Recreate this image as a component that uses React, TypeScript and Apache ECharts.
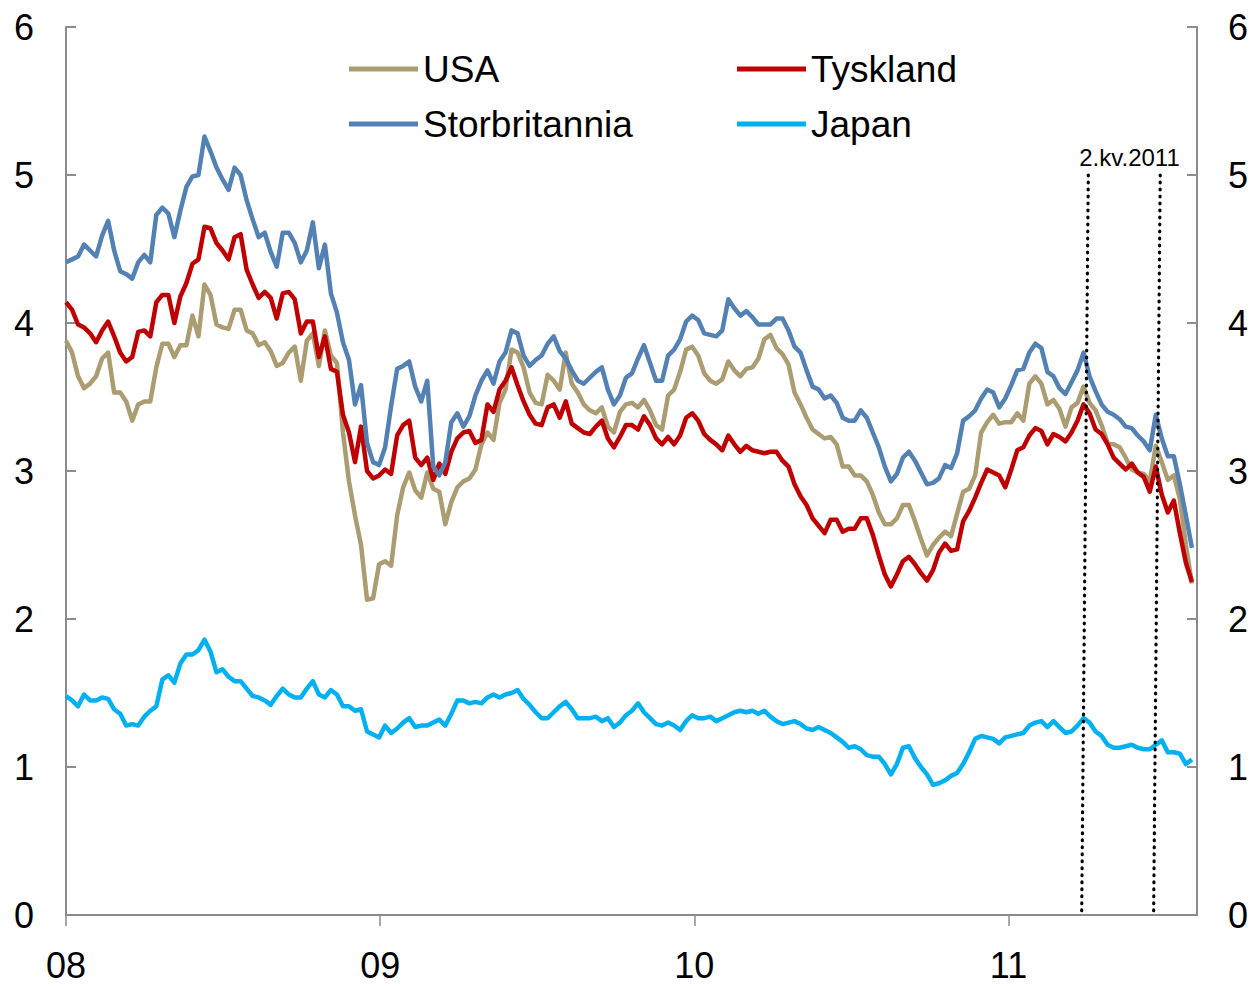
import React, { useEffect, useRef } from "react";
import * as echarts from "echarts";

// Weekly 10-year government bond yields (per cent), Jan 2008 - Aug 2011
const USA = [
  3.88, 3.80, 3.64, 3.56, 3.59, 3.64, 3.76, 3.80, 3.53, 3.53,
  3.47, 3.34, 3.45, 3.47, 3.47, 3.70, 3.86, 3.86, 3.77, 3.85,
  3.85, 4.05, 3.91, 4.26, 4.19, 3.99, 3.97, 3.96, 4.09, 4.09,
  3.95, 3.93, 3.85, 3.87, 3.81, 3.71, 3.73, 3.80, 3.84, 3.61,
  3.88, 3.93, 3.71, 3.95, 3.78, 3.73, 3.26, 2.93, 2.70, 2.50,
  2.13, 2.14, 2.37, 2.39, 2.36, 2.70, 2.89, 2.99, 2.87, 2.82,
  2.99, 2.88, 2.86, 2.64, 2.79, 2.89, 2.93, 2.95, 3.01, 3.18,
  3.26, 3.21, 3.46, 3.55, 3.82, 3.80, 3.70, 3.53, 3.46, 3.45,
  3.65, 3.61, 3.55, 3.80, 3.59, 3.53, 3.45, 3.41, 3.39, 3.43,
  3.30, 3.26, 3.40, 3.45, 3.46, 3.43, 3.48, 3.41, 3.31, 3.28,
  3.51, 3.55, 3.67, 3.82, 3.84, 3.78, 3.66, 3.61, 3.59, 3.62,
  3.74, 3.68, 3.64, 3.69, 3.70, 3.76, 3.89, 3.92, 3.83, 3.79,
  3.72, 3.53, 3.45, 3.36, 3.28, 3.25, 3.22, 3.23, 3.18, 3.03,
  3.03, 2.97, 2.97, 2.93, 2.84, 2.72, 2.64, 2.64, 2.68, 2.77,
  2.77, 2.66, 2.54, 2.43, 2.50, 2.55, 2.59, 2.56, 2.71, 2.86,
  2.88, 2.97, 3.26, 3.33, 3.38, 3.32, 3.33, 3.33, 3.39, 3.34,
  3.59, 3.64, 3.59, 3.45, 3.48, 3.42, 3.30, 3.43, 3.46, 3.57,
  3.46, 3.41, 3.31, 3.19, 3.18, 3.16, 3.09, 3.01, 2.99, 2.98,
  2.93, 3.17, 3.06, 2.94, 2.97, 2.81, 2.50, 2.24,
];

const TYSKLAND = [
  4.14, 4.09, 3.99, 3.97, 3.93, 3.87, 3.95, 4.01, 3.91, 3.80,
  3.74, 3.77, 3.94, 3.95, 3.91, 4.14, 4.19, 4.19, 4.00, 4.18,
  4.27, 4.40, 4.43, 4.65, 4.64, 4.54, 4.49, 4.43, 4.58, 4.60,
  4.36, 4.26, 4.17, 4.21, 4.17, 4.03, 4.20, 4.21, 4.16, 3.93,
  4.01, 4.01, 3.77, 3.91, 3.69, 3.67, 3.38, 3.26, 3.06, 3.30,
  3.00, 2.95, 2.97, 3.01, 2.98, 3.24, 3.31, 3.34, 3.09, 3.04,
  3.09, 2.94, 3.05, 2.98, 3.13, 3.22, 3.26, 3.27, 3.19, 3.21,
  3.45, 3.40, 3.55, 3.61, 3.70, 3.58, 3.47, 3.38, 3.32, 3.31,
  3.43, 3.45, 3.36, 3.47, 3.32, 3.29, 3.26, 3.25, 3.30, 3.34,
  3.22, 3.16, 3.23, 3.31, 3.31, 3.28, 3.37, 3.31, 3.22, 3.18,
  3.23, 3.18, 3.24, 3.36, 3.39, 3.34, 3.25, 3.21, 3.18, 3.14,
  3.24, 3.18, 3.13, 3.17, 3.14, 3.13, 3.12, 3.13, 3.13, 3.07,
  3.03, 2.91, 2.83, 2.77, 2.68, 2.63, 2.58, 2.67, 2.67, 2.59,
  2.61, 2.61, 2.68, 2.68, 2.57, 2.43, 2.30, 2.22, 2.30, 2.39,
  2.42, 2.37, 2.31, 2.26, 2.33, 2.45, 2.51, 2.46, 2.47, 2.66,
  2.73, 2.82, 2.92, 3.01, 2.99, 2.97, 2.89, 3.01, 3.14, 3.16,
  3.24, 3.29, 3.27, 3.18, 3.25, 3.23, 3.20, 3.26, 3.34, 3.45,
  3.39, 3.28, 3.25, 3.18, 3.09, 3.05, 3.01, 3.05, 2.99, 2.96,
  2.86, 3.03, 2.84, 2.72, 2.80, 2.58, 2.38, 2.25,
];

const STORBRITANNIA = [
  4.41, 4.43, 4.45, 4.53, 4.49, 4.45, 4.59, 4.69, 4.49, 4.35,
  4.33, 4.30, 4.41, 4.46, 4.41, 4.73, 4.78, 4.74, 4.58, 4.76,
  4.92, 4.99, 5.00, 5.26, 5.16, 5.05, 4.97, 4.90, 5.05, 5.00,
  4.83, 4.70, 4.58, 4.61, 4.48, 4.38, 4.61, 4.61, 4.54, 4.41,
  4.49, 4.68, 4.37, 4.53, 4.20, 4.07, 3.87, 3.75, 3.45, 3.58,
  3.19, 3.06, 3.04, 3.16, 3.44, 3.69, 3.71, 3.74, 3.57, 3.47,
  3.61, 3.03, 2.97, 3.06, 3.33, 3.39, 3.30, 3.37, 3.51, 3.61,
  3.68, 3.59, 3.74, 3.80, 3.95, 3.93, 3.78, 3.71, 3.75, 3.78,
  3.86, 3.91, 3.81, 3.76, 3.68, 3.61, 3.59, 3.63, 3.67, 3.70,
  3.55, 3.45, 3.51, 3.63, 3.66, 3.76, 3.85, 3.73, 3.61, 3.61,
  3.78, 3.82, 3.89, 4.01, 4.05, 4.02, 3.93, 3.92, 3.91, 3.95,
  4.16, 4.10, 4.05, 4.08, 4.04, 3.99, 3.99, 3.99, 4.03, 4.03,
  3.95, 3.84, 3.80, 3.68, 3.57, 3.55, 3.49, 3.51, 3.46, 3.36,
  3.34, 3.34, 3.41, 3.36, 3.26, 3.16, 3.03, 2.93, 2.98, 3.09,
  3.13, 3.07, 2.99, 2.91, 2.92, 2.95, 3.04, 3.02, 3.12, 3.34,
  3.37, 3.41, 3.49, 3.55, 3.53, 3.43, 3.49, 3.58, 3.68, 3.69,
  3.80, 3.86, 3.83, 3.67, 3.64, 3.56, 3.52, 3.60, 3.68, 3.80,
  3.64, 3.54, 3.45, 3.40, 3.38, 3.35, 3.30, 3.29, 3.24, 3.20,
  3.14, 3.38, 3.22, 3.10, 3.10, 2.91, 2.70, 2.48,
];

const JAPAN = [
  1.48, 1.45, 1.41, 1.49, 1.45, 1.45, 1.47, 1.46, 1.39, 1.36,
  1.28, 1.29, 1.28, 1.34, 1.38, 1.41, 1.59, 1.62, 1.57, 1.70,
  1.76, 1.76, 1.79, 1.86, 1.78, 1.64, 1.66, 1.61, 1.58, 1.58,
  1.53, 1.48, 1.47, 1.45, 1.42, 1.48, 1.53, 1.49, 1.47, 1.47,
  1.53, 1.58, 1.49, 1.47, 1.52, 1.49, 1.41, 1.41, 1.38, 1.39,
  1.24, 1.22, 1.20, 1.28, 1.23, 1.26, 1.30, 1.33, 1.27, 1.28,
  1.28, 1.30, 1.32, 1.28, 1.36, 1.45, 1.45, 1.43, 1.44, 1.43,
  1.47, 1.49, 1.47, 1.49, 1.50, 1.52, 1.46, 1.42, 1.37, 1.33,
  1.33, 1.37, 1.41, 1.44, 1.39, 1.33, 1.33, 1.33, 1.34, 1.31,
  1.33, 1.27, 1.30, 1.35, 1.38, 1.43, 1.37, 1.33, 1.29, 1.28,
  1.30, 1.28, 1.25, 1.31, 1.35, 1.33, 1.33, 1.34, 1.31, 1.33,
  1.35, 1.37, 1.38, 1.37, 1.38, 1.36, 1.38, 1.34, 1.31, 1.29,
  1.30, 1.31, 1.29, 1.26, 1.25, 1.27, 1.25, 1.23, 1.20, 1.17,
  1.13, 1.14, 1.12, 1.08, 1.07, 1.07, 1.02, 0.95, 1.02, 1.13,
  1.14, 1.06, 1.00, 0.95, 0.88, 0.89, 0.91, 0.94, 0.96, 1.02,
  1.10, 1.19, 1.21, 1.20, 1.19, 1.16, 1.20, 1.21, 1.22, 1.23,
  1.28, 1.30, 1.31, 1.27, 1.31, 1.27, 1.23, 1.24, 1.28, 1.33,
  1.30, 1.24, 1.21, 1.15, 1.13, 1.13, 1.14, 1.15, 1.13, 1.12,
  1.12, 1.15, 1.18, 1.10, 1.10, 1.09, 1.02, 1.05,
];

// First observation: first week of 2008; one observation per week
const START_YEAR = 2008;
const WEEK_IN_YEARS = 7 / 365.25;

// Quarter markers (2nd quarter 2011): [top, bottom] in [year, yield]
const Q2_START = [[2011.254, 5.0], [2011.233, 0]];
const Q2_END = [[2011.483, 5.0], [2011.462, 0]];
const Q2_LABEL = "2.kv.2011";

const X_TICK_YEARS = [2008, 2009, 2010, 2011];
const Y_TICKS = [0, 1, 2, 3, 4, 5, 6];

const FONT = '"Liberation Sans", Arial, Helvetica, sans-serif';
const AXIS_GREY = "#8c8c8c";

const SERIES = [
  { name: "USA", data: USA, color: "#AB9C71" },
  { name: "Tyskland", data: TYSKLAND, color: "#C00000" },
  { name: "Storbritannia", data: STORBRITANNIA, color: "#5381B3" },
  { name: "Japan", data: JAPAN, color: "#00B0F0" },
];

const LEGEND_POS: Record<string, { left: number; top: number }> = {
  USA: { left: 349, top: 49 },
  Tyskland: { left: 737, top: 49 },
  Storbritannia: { left: 349, top: 104 },
  Japan: { left: 737, top: 104 },
};

export default function App() {
  const ref = useRef<HTMLDivElement | null>(null);

  useEffect(() => {
    document.body.style.margin = "0";
    if (!ref.current) return;
    const chart = echarts.init(ref.current, undefined, { renderer: "svg" });

    const yAxisCommon = {
      type: "value",
      min: 0,
      max: 6,
      interval: 1,
      splitLine: { show: false },
      axisLine: { show: true, lineStyle: { color: AXIS_GREY, width: 2 } },
      axisTick: { show: true, inside: true, length: 10, lineStyle: { color: AXIS_GREY, width: 2 } },
    };

    const option: any = {
      animation: false,
      backgroundColor: "#ffffff",
      textStyle: { fontFamily: FONT },
      grid: { left: 66, right: 53, top: 27, bottom: 71, containLabel: false },
      legend: SERIES.map((s) => ({
        data: [s.name],
        left: LEGEND_POS[s.name].left,
        top: LEGEND_POS[s.name].top,
        padding: 0,
        itemWidth: 69,
        itemHeight: 5,
        icon: "rect",
        selectedMode: false,
        textStyle: { fontFamily: FONT, fontSize: 37, color: "#000", lineHeight: 40 },
      })),
      xAxis: {
        type: "value",
        min: START_YEAR,
        max: 2011.6,
        interval: 1,
        splitLine: { show: false },
        axisLine: { show: true, lineStyle: { color: AXIS_GREY, width: 2 } },
        axisTick: { show: true, inside: false, length: 11, lineStyle: { color: AXIS_GREY, width: 1.5 } },
        axisLabel: {
          margin: 36,
          fontFamily: FONT,
          fontSize: 36,
          lineHeight: 29,
          color: "#000",
          showMaxLabel: false,
          formatter: (v: number) =>
            X_TICK_YEARS.includes(Math.round(v)) ? String(Math.round(v)).slice(2) : "",
        },
      },
      yAxis: [
        {
          ...yAxisCommon,
          position: "left",
          axisLabel: { margin: 32, fontFamily: FONT, fontSize: 36, color: "#000",
            formatter: (v: number) => (Y_TICKS.includes(v) ? String(v) : "") },
        },
        {
          ...yAxisCommon,
          position: "right",
          axisLabel: { margin: 31, fontFamily: FONT, fontSize: 36, color: "#000",
            formatter: (v: number) => (Y_TICKS.includes(v) ? String(v) : "") },
        },
      ],
      series: [
        ...SERIES.map((s) => ({
          name: s.name,
          type: "line",
          data: s.data.map((v, i) => [START_YEAR + i * WEEK_IN_YEARS, v]),
          showSymbol: false,
          symbol: "none",
          color: s.color,
          lineStyle: { color: s.color, width: 4.5, join: "round" },
          silent: true,
        })),
        {
          name: "q2",
          type: "line",
          data: [],
          silent: true,
          markLine: {
            silent: true,
            symbol: "none",
            label: { show: false },
            lineStyle: { color: "#000", width: 3.2, type: [0.8, 6.2], cap: "round" },
            data: [
              [{ coord: Q2_START[0] }, { coord: Q2_START[1] }],
              [{ coord: Q2_END[0] }, { coord: Q2_END[1] }],
            ],
          },
        },
      ],
      graphic: [
        {
          type: "text",
          x: 1129.5,
          y: 157,
          silent: true,
          style: {
            text: Q2_LABEL,
            fill: "#000",
            font: `24px ${FONT}`,
            align: "center",
            verticalAlign: "middle",
          },
        },
      ],
    };

    chart.setOption(option);
    return () => chart.dispose();
  }, []);

  return <div ref={ref} style={{ width: 1251, height: 986 }} />;
}
